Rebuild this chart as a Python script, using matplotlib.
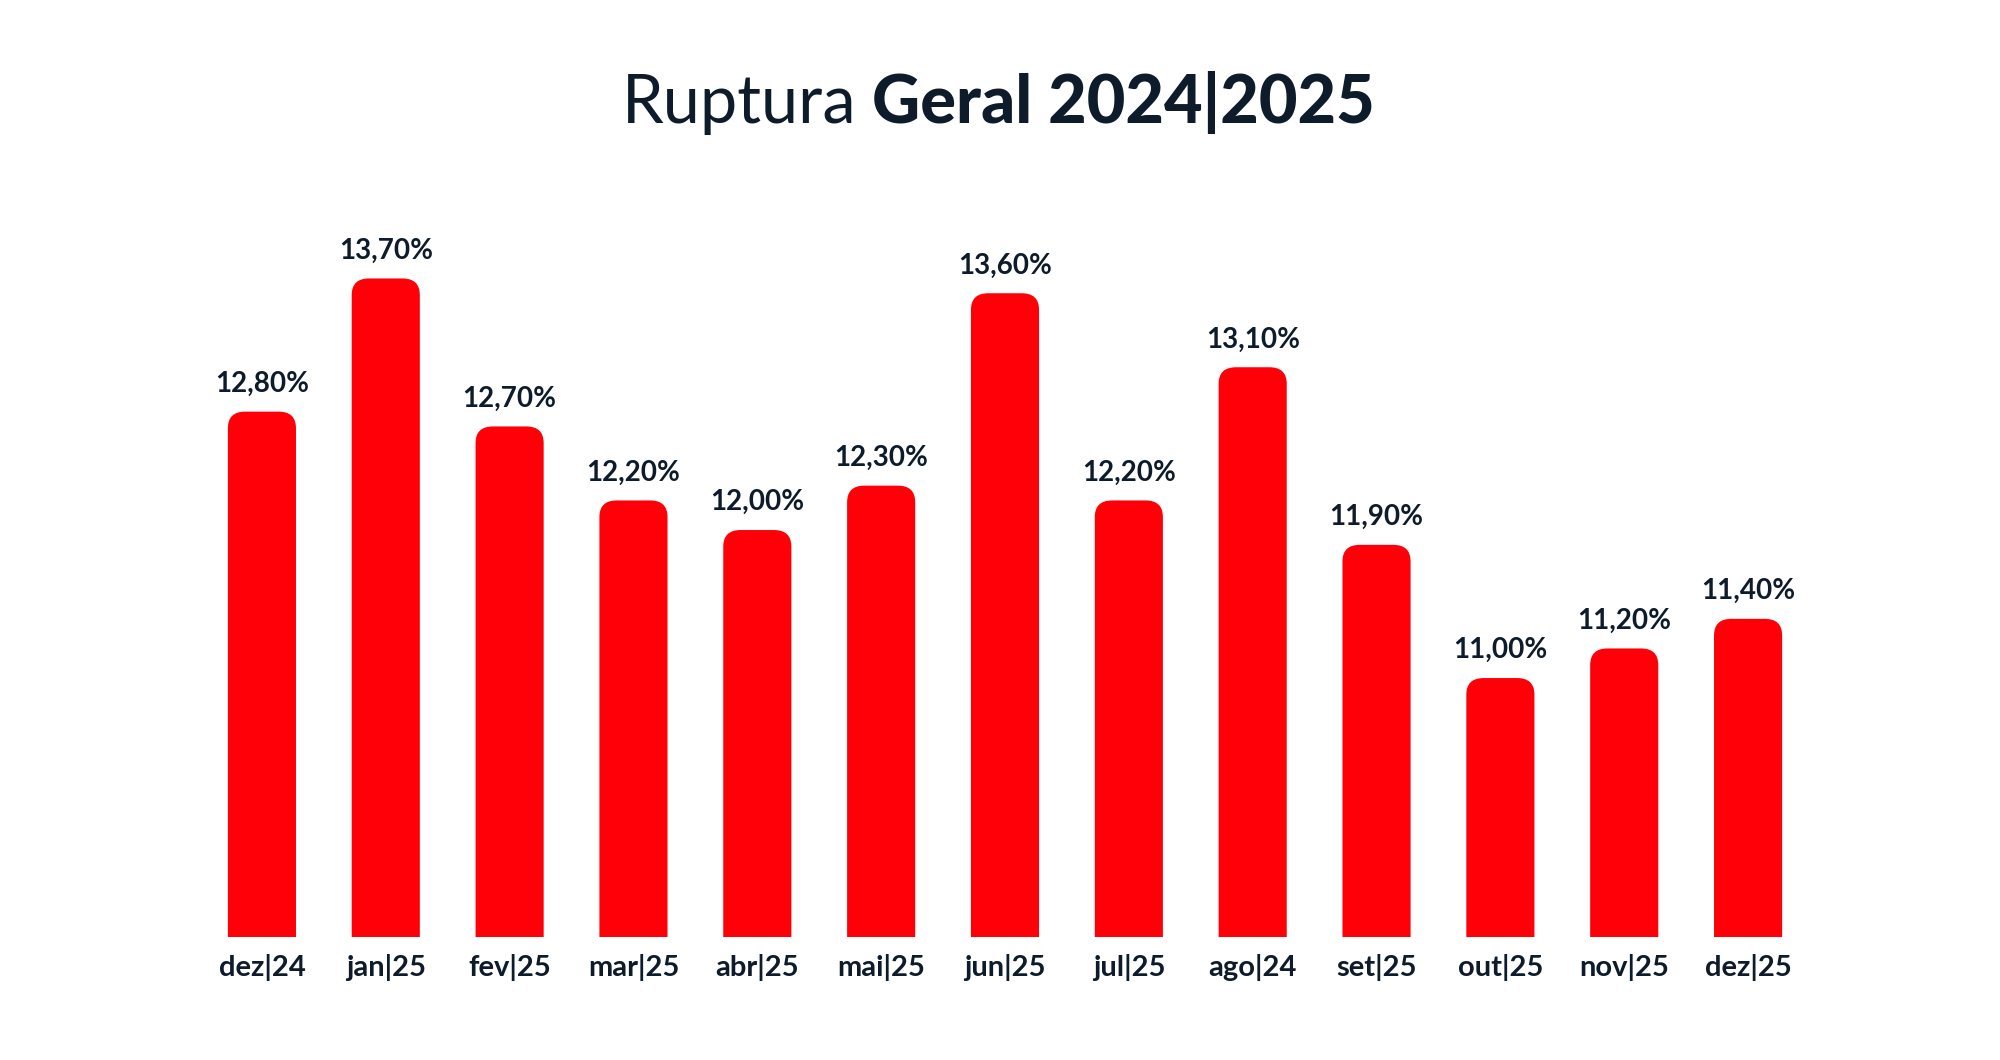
import matplotlib
matplotlib.use("Agg")
import matplotlib.pyplot as plt
from matplotlib.patches import FancyBboxPatch

categories = ["dez|24","jan|25","fev|25","mar|25","abr|25","mai|25","jun|25","jul|25","ago|24","set|25","out|25","nov|25","dez|25"]
values = [12.8,13.7,12.7,12.2,12.0,12.3,13.6,12.2,13.1,11.9,11.0,11.2,11.4]

plt.rcParams['font.family'] = ['Lato', 'DejaVu Sans']
dark = "#0d1b2a"
red = "#ff0008"

fig = plt.figure(figsize=(20, 10.6), dpi=100)
ax = fig.add_axes([0.100, 0.116, 0.805, 0.74])
ymin, ymax = 9.25, 14.55
ax.set_xlim(-0.5, len(values) - 0.5)
ax.set_ylim(ymin, ymax)
w = 0.55
for i, v in enumerate(values):
    p = FancyBboxPatch((i - w/2, ymin - 0.5), w, v - ymin + 0.5,
                       boxstyle="round,pad=0,rounding_size=0.14",
                       mutation_aspect=0.8, fc=red, ec="none")
    ax.add_patch(p)
    ax.text(i, v + 0.1, f"{v:.2f}".replace(".", ",") + "%", ha="center", va="bottom",
            fontsize=20, fontweight="bold", color=dark)
ax.set_xticks(range(len(values)))
ax.set_xticklabels(categories, fontsize=21, fontweight="bold", color=dark)
ax.tick_params(axis="x", length=0, pad=12)
ax.set_yticks([])
for s in ax.spines.values():
    s.set_visible(False)

fig.text(0.428, 0.902, "Ruptura", ha="right", va="center", fontsize=48, fontweight="normal", color=dark)
fig.text(0.436, 0.902, "Geral 2024|2025", ha="left", va="center", fontsize=48, fontweight="black", color=dark)
fig.savefig("out.png", dpi=100, facecolor="white")
